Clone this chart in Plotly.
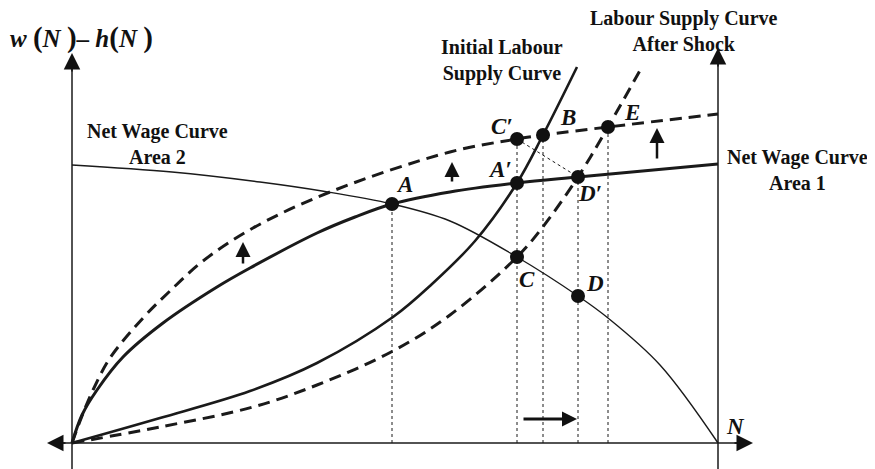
import plotly.graph_objects as go

# Data in diagram units (origin at N=0, w-h=0)
nw1_x = [0, 10, 25, 51, 91, 145, 178, 245, 283, 320, 378, 445, 506, 646]
nw1_y = [0, 28, 53, 86, 120, 156, 175, 210, 226, 239, 251, 260, 266, 279]

nw1s_x = [0, 10, 21, 38, 71, 98, 131, 181, 258, 378, 445, 471, 536, 646]
nw1s_y = [0, 27, 53, 85, 125, 152, 182, 215, 251, 291, 304, 308, 316, 329]

ls0_x = [0, 88, 178, 245, 321, 360, 403, 445, 471, 505]
ls0_y = [0, 25, 52, 80, 126, 159, 202, 260, 308, 376]

ls1_x = [0, 88, 181, 245, 321, 378, 445, 470, 506, 536, 571]
ls1_y = [0, 16, 36, 58, 92, 128, 186, 215, 266, 316, 378]

nw2_x = [0, 100, 188, 250, 320, 378, 445, 506, 536, 588, 646]
nw2_y = [278, 271, 261, 252, 239, 222, 186, 147, 125, 78, 0]

pt_names = ["A", "A′", "C", "C′", "B", "D", "D′", "E"]
pt_x = [320, 445, 445, 445, 471, 506, 506, 536]
pt_y = [239, 260, 186, 304, 308, 147, 266, 316]
lab_x = [332, 428, 455, 430, 496, 523, 518, 560]
lab_y = [259, 274, 164, 317, 326, 160, 250, 331]

N_MAX = 646
FONT = "Liberation Serif"

fig = go.Figure()

def line(x, y, width, dash=None, shape="spline"):
    fig.add_trace(go.Scatter(x=x, y=y, mode="lines", line=dict(color="#1a1a1a", width=width, dash=dash, shape=shape, smoothing=1.0), hoverinfo="skip", showlegend=False))

# dotted guide lines
for vx, top in [(320, 239), (445, 304), (471, 308), (506, 266), (536, 316)]:
    line([vx, vx], [0, top], 1, dash="dot", shape="linear")
line([445, 506], [304, 266], 1, dash="dot", shape="linear")

line(nw2_x, nw2_y, 1.4)
line(nw1_x, nw1_y, 3)
line(nw1s_x, nw1s_y, 3, dash="12px,7px")
line(ls0_x, ls0_y, 2.6)
line(ls1_x, ls1_y, 3, dash="12px,7px")

# axes
line([0, 0], [-40, 385], 1.5, shape="linear")
line([N_MAX, N_MAX], [-40, 390], 1.5, shape="linear")
line([-20, 676], [0, 0], 1.5, shape="linear")

fig.add_trace(go.Scatter(x=pt_x, y=pt_y, mode="markers", marker=dict(size=14, color="#111"), hoverinfo="skip", showlegend=False))

anns = []
def arrow(x0, y0, x1, y1, w, size):
    anns.append(dict(x=x1, y=y1, ax=x0, ay=y0, xref="x", yref="y", axref="x", ayref="y", text="", showarrow=True, arrowhead=2, arrowwidth=w, arrowsize=size, arrowcolor="#111"))

arrow(0, 370, 0, 390, 1.5, 2.2)
arrow(N_MAX, 375, N_MAX, 395, 1.5, 2.2)
arrow(-5, 0, -25, 0, 1.5, 2.2)
arrow(661, 0, 681, 0, 1.5, 2.2)
arrow(171, 178, 171, 201, 2.5, 1.2)
arrow(380, 260, 380, 281, 2.5, 1.2)
arrow(585, 283, 585, 315, 2.5, 1.2)
arrow(450, 24, 505, 24, 3, 1.0)

def text(x, y, t, size):
    anns.append(dict(x=x, y=y, xref="x", yref="y", text=t, showarrow=False, xanchor="center", yanchor="middle", font=dict(family=FONT, size=size, color="#111")))

P = "<span style='font-size:29px'>%s</span>"
for n, x, y in zip(pt_names, lab_x, lab_y):
    text(x, y, "<b><i>%s</i></b>" % n, 23)
text(663, 17, "<b><i>N</i></b>", 23)
text(9, 406, "<b><i>w</i> " + P % "(" + "<i>N</i> " + P % ")" + "– <i>h</i>" + P % "(" + "<i>N</i> " + P % ")" + "</b>", 25)
text(430, 383, "<b>Initial Labour<br>Supply Curve</b>", 20)
text(612, 412, "<b>Labour Supply Curve<br>After Shock</b>", 20)
text(725, 273, "<b>Net Wage Curve<br>Area 1</b>", 20)
text(85, 299, "<b>Net Wage Curve<br>Area 2</b>", 20)

# page body adds an 8px margin; ranges compensate so the diagram lands in place
fig.update_layout(
    width=875, height=469, margin=dict(l=0, r=0, t=0, b=0),
    paper_bgcolor="white", plot_bgcolor="white",
    xaxis=dict(range=[-64, 811], visible=False, fixedrange=True),
    yaxis=dict(range=[-34, 435], visible=False, fixedrange=True),
    annotations=anns, showlegend=False,
)
fig.write_html("out.html")
